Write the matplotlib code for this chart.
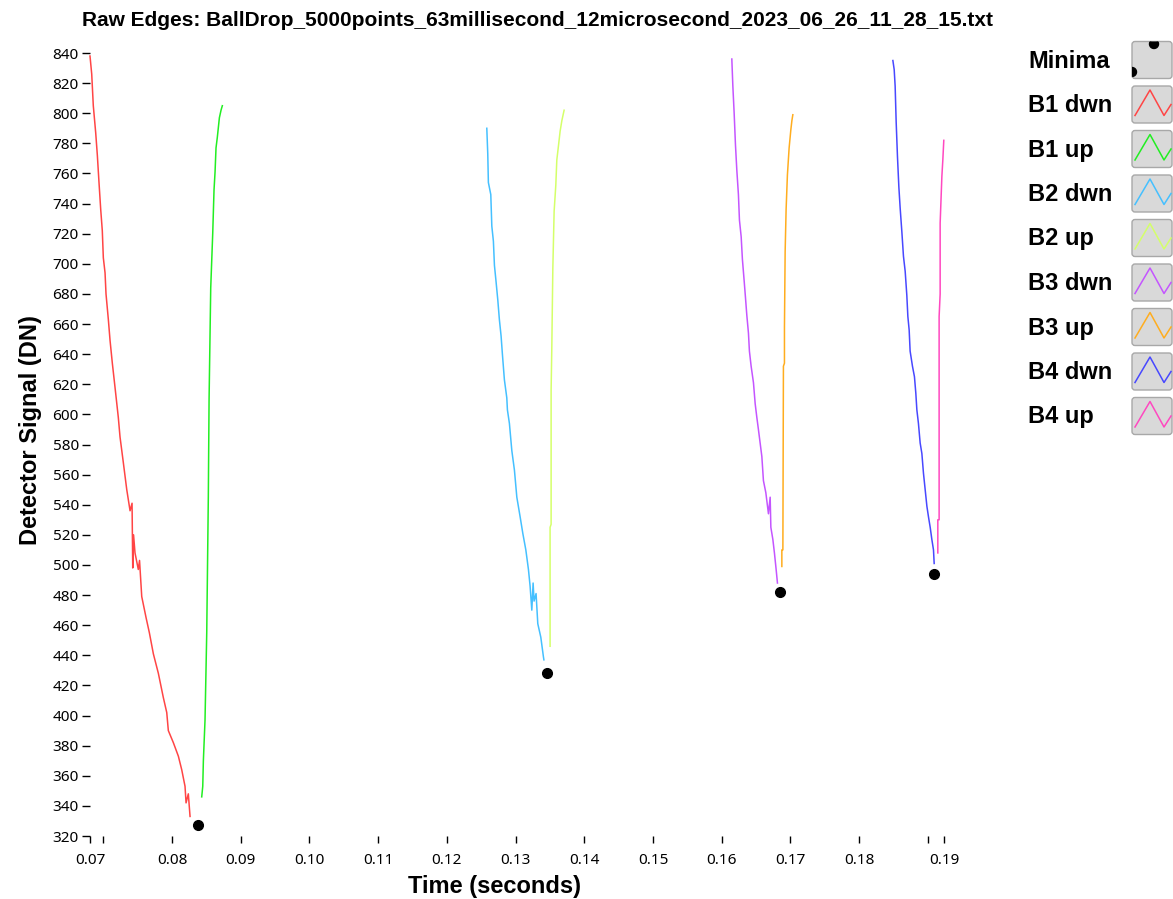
import matplotlib
matplotlib.use('Agg')
import matplotlib.pyplot as plt
from matplotlib.patches import FancyBboxPatch, Circle

# ---- data (time in seconds, signal in DN) ----
b1_dwn_t = [0.06806, 0.06831, 0.06854, 0.06889, 0.06913, 0.06937, 0.06962, 0.06985, 0.07000, 0.07025,
            0.07039, 0.07073, 0.07098, 0.07131, 0.07170, 0.07218, 0.07243, 0.07291, 0.07341, 0.07389,
            0.07418, 0.07428, 0.07440, 0.07461, 0.07509, 0.07527, 0.07559, 0.07622, 0.07670, 0.07728,
            0.07801, 0.07873, 0.07923, 0.07946, 0.08019, 0.08092, 0.08141, 0.08189, 0.08204, 0.08237,
            0.08262]
b1_dwn_v = [838, 826, 805, 787, 772, 754, 736, 722, 704, 694,
            680, 663, 649, 634, 618, 598, 585, 568, 550, 536,
            541, 498, 520, 508, 497, 503, 479, 465, 455, 441,
            428, 412, 402, 390, 382, 373, 364, 353, 342, 348,
            333]

b1_up_t = [0.08432, 0.08447, 0.08456, 0.08480, 0.08505, 0.08528, 0.08539, 0.08563, 0.08592, 0.08611,
           0.08626, 0.08640, 0.08659, 0.08689, 0.08713, 0.08732]
b1_up_v = [346, 353, 370, 397, 455, 545, 610, 684, 720, 749,
           761, 777, 784, 797, 802, 805]

b2_dwn_t = [0.12581, 0.12595, 0.12604, 0.12639, 0.12654, 0.12677, 0.12692, 0.12716, 0.12741, 0.12764,
            0.12789, 0.12808, 0.12837, 0.12872, 0.12881, 0.12910, 0.12945, 0.12983, 0.13018, 0.13066,
            0.13105, 0.13149, 0.13187, 0.13211, 0.13236, 0.13255, 0.13269, 0.13298, 0.13323, 0.13367,
            0.13405, 0.13412]
b2_dwn_v = [790, 773, 754, 746, 725, 715, 699, 688, 676, 663,
            652, 640, 623, 611, 603, 594, 576, 563, 545, 532,
            521, 510, 497, 486, 470, 488, 476, 481, 461, 452,
            439, 437]

b2_up_t = [0.13502, 0.13502, 0.13517, 0.13517, 0.13527, 0.13542, 0.13561, 0.13585, 0.13600, 0.13623,
           0.13648, 0.13673, 0.13706]
b2_up_v = [446, 525, 527, 616, 644, 697, 735, 752, 769, 778,
           788, 795, 802]

b3_dwn_t = [0.16147, 0.16162, 0.16181, 0.16200, 0.16220, 0.16243, 0.16258, 0.16283, 0.16301, 0.16326,
            0.16345, 0.16365, 0.16389, 0.16403, 0.16428, 0.16462, 0.16487, 0.16511, 0.16534, 0.16559,
            0.16584, 0.16607, 0.16642, 0.16680, 0.16705, 0.16715, 0.16744, 0.16767, 0.16792, 0.16811]
b3_dwn_v = [836, 818, 800, 779, 762, 746, 729, 718, 703, 689,
            678, 666, 654, 642, 632, 621, 607, 598, 590, 581,
            572, 556, 548, 534, 545, 525, 517, 508, 497, 488]

b3_up_t = [0.16875, 0.16875, 0.16890, 0.16898, 0.16913, 0.16913, 0.16923, 0.16937, 0.16956, 0.16981,
           0.17006, 0.17021, 0.17035]
b3_up_v = [499, 510, 510, 632, 634, 658, 708, 736, 759, 777,
           789, 795, 799]

b4_dwn_t = [0.18491, 0.18510, 0.18524, 0.18539, 0.18558, 0.18578, 0.18597, 0.18622, 0.18645, 0.18670,
            0.18694, 0.18709, 0.18728, 0.18742, 0.18776, 0.18805, 0.18825, 0.18840, 0.18863, 0.18888,
            0.18913, 0.18936, 0.18961, 0.18986, 0.19009, 0.19034, 0.19058, 0.19082, 0.19092]
b4_dwn_v = [835, 829, 818, 794, 771, 751, 737, 721, 705, 695,
            679, 665, 656, 642, 632, 625, 614, 603, 594, 581,
            574, 561, 550, 539, 532, 525, 517, 510, 501]

b4_up_t = [0.19145, 0.19145, 0.19164, 0.19164, 0.19179, 0.19179, 0.19204, 0.19218, 0.19232]
b4_up_v = [508, 530, 530, 665, 680, 727, 758, 769, 782]

minima_t = [0.08374, 0.13454, 0.16850, 0.19096]
minima_v = [327, 428, 482, 494]

series_names = ['B1 dwn', 'B1 up', 'B2 dwn', 'B2 up', 'B3 dwn', 'B3 up', 'B4 dwn', 'B4 up']
series_colors = ['#ff4545', '#22ee22', '#45c0ff', '#d4ff6a', '#c455ff', '#ffad1f', '#4848ff', '#ff48c0']

x_min, x_max = 0.06806, 0.19235
x_ticks = [x_min, 0.07, 0.08, 0.09, 0.10, 0.11, 0.12, 0.13, 0.14, 0.15, 0.16, 0.17, 0.18, 0.19, x_max]
x_tick_labels = ['0.07', '', '0.08', '0.09', '0.10', '0.11', '0.12', '0.13', '0.14', '0.15', '0.16',
                 '0.17', '0.18', '', '0.19']
y_ticks = list(range(320, 841, 20))

TITLE = 'Raw Edges: BallDrop_5000points_63millisecond_12microsecond_2023_06_26_11_28_15.txt'

W, H = 1173, 899
BOLD_FONT = 'Liberation Sans'
TICK_FONT = 'Noto Sans'


def draw_legend(fig):
    lay = fig.add_axes([0, 0, 1, 1], zorder=5)
    lay.set_xlim(0, W)
    lay.set_ylim(H, 0)
    lay.axis('off')
    labels = ['Minima'] + series_names
    for i, label in enumerate(labels):
        yc = 60 + i * 44.5
        lay.text(1028, yc + 1, label, fontsize=17, fontweight='bold', ha='left', va='center',
                 family=BOLD_FONT)
        box = FancyBboxPatch((1132, yc - 18.5), 40, 37, boxstyle='round,pad=0,rounding_size=3',
                             facecolor='#d9d9d9', edgecolor='#a8a8a8', linewidth=1)
        lay.add_patch(box)
        if i == 0:
            for cx, cy in [(1154, 44), (1132, 72)]:
                dot = Circle((cx, cy), 4.5, color='black')
                dot.set_clip_path(box)
                lay.add_patch(dot)
        else:
            lay.plot([1135, 1150, 1164, 1171], [yc + 11, yc - 14.5, yc + 11, yc],
                     color=series_colors[i - 1], lw=1.1)


def main():
    fig = plt.figure(figsize=(W / 100, H / 100), dpi=100)
    ax = fig.add_axes([90 / W, 1 - 836 / H, (944 - 90) / W, (836 - 53) / H])

    data = [(b1_dwn_t, b1_dwn_v), (b1_up_t, b1_up_v), (b2_dwn_t, b2_dwn_v), (b2_up_t, b2_up_v),
            (b3_dwn_t, b3_dwn_v), (b3_up_t, b3_up_v), (b4_dwn_t, b4_dwn_v), (b4_up_t, b4_up_v)]
    for (t, v), c in zip(data, series_colors):
        ax.plot(t, v, color=c, lw=1.1, clip_on=False)
    ax.plot(minima_t, minima_v, 'o', color='black', markersize=7, clip_on=False)

    ax.set_xlim(x_min, x_max)
    ax.set_ylim(320, 840)
    ax.set_xticks(x_ticks)
    ax.set_xticklabels(x_tick_labels, family=TICK_FONT, fontsize=11)
    ax.set_yticks(y_ticks)
    ax.set_yticklabels([str(y) for y in y_ticks], family=TICK_FONT, fontsize=11)
    ax.tick_params(axis='x', length=5, width=1, pad=7, direction='out')
    ax.tick_params(axis='y', length=6, width=1, pad=2, direction='out')
    for s in ax.spines.values():
        s.set_visible(False)

    fig.text(538 / W, 1 - 20 / H, TITLE, fontsize=15, fontweight='bold', ha='center', va='center',
             family=BOLD_FONT)
    fig.text(31 / W, 1 - 430 / H, 'Detector Signal (DN)', fontsize=17, fontweight='bold',
             rotation=90, ha='center', va='center', family=BOLD_FONT)
    fig.text(495 / W, 1 - 886 / H, 'Time (seconds)', fontsize=17, fontweight='bold',
             ha='center', va='center', family=BOLD_FONT)

    draw_legend(fig)
    fig.savefig('out.png', dpi=100)


if __name__ == '__main__':
    main()
